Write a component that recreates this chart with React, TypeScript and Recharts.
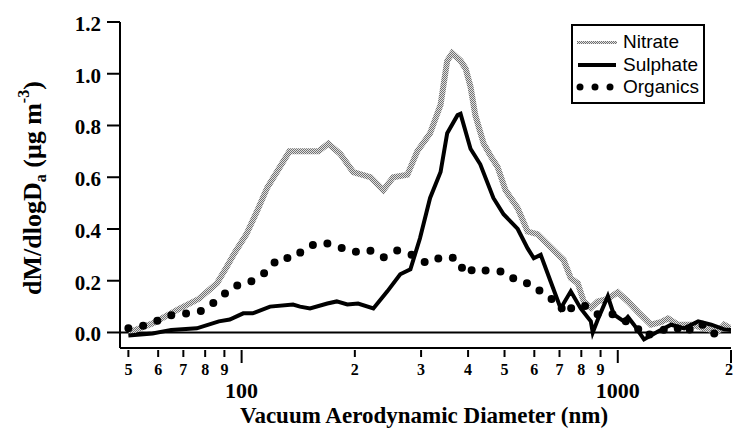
import { LineChart, Line, XAxis, YAxis, ReferenceLine, Legend } from 'recharts';

// diameters (nm) and dM/dlogDa values
const nitrateD = [50, 58, 68, 77, 86, 91, 96, 103, 110, 117, 124, 134, 143, 152, 160, 170, 183, 198, 220, 238, 253, 276, 293, 317, 338, 352, 363, 382, 394, 406, 418, 440, 460, 479, 503, 542, 576, 612, 663, 718, 750, 783, 812, 848, 885, 940, 1000, 1064, 1131, 1225, 1300, 1361, 1447, 1567, 1697, 1849, 1919, 2000];
const nitrateV = [0.0, 0.035, 0.09, 0.13, 0.19, 0.25, 0.31, 0.38, 0.47, 0.56, 0.62, 0.7, 0.7, 0.7, 0.7, 0.73, 0.69, 0.62, 0.6, 0.55, 0.6, 0.61, 0.7, 0.77, 0.88, 1.05, 1.08, 1.05, 1.02, 0.95, 0.84, 0.73, 0.68, 0.64, 0.55, 0.48, 0.39, 0.38, 0.33, 0.28, 0.21, 0.19, 0.12, 0.095, 0.12, 0.13, 0.155, 0.12, 0.08, 0.03, 0.04, 0.054, 0.03, 0.03, 0.016, 0.005, 0.03, 0.016];

const sulphateD = [50, 58, 65, 76, 87, 93, 101, 107, 119, 137, 143, 152, 169, 179, 191, 204, 224, 244, 264, 281, 298, 317, 338, 352, 375, 382, 406, 431, 467, 497, 542, 576, 598, 624, 663, 705, 750, 797, 848, 858, 885, 941, 976, 1038, 1064, 1104, 1174, 1279, 1386, 1501, 1636, 1772, 1919, 2000];
const sulphateV = [-0.012, -0.004, 0.01, 0.016, 0.043, 0.05, 0.074, 0.074, 0.1, 0.108, 0.1, 0.093, 0.112, 0.12, 0.108, 0.112, 0.093, 0.159, 0.225, 0.244, 0.364, 0.52, 0.62, 0.77, 0.84, 0.845, 0.71, 0.65, 0.52, 0.457, 0.4, 0.325, 0.287, 0.3, 0.197, 0.093, 0.159, 0.093, 0.043, 0.0, 0.05, 0.14, 0.07, 0.043, 0.06, 0.03, -0.027, 0.004, 0.03, 0.016, 0.043, 0.03, 0.012, 0.01];

const organicsD = [50, 55, 60, 66, 72, 79, 87, 95, 104, 115, 126, 137, 150, 165, 179, 198, 217, 238, 259, 286, 311, 344, 375, 393, 418, 456, 499, 542, 594, 643, 705, 714, 764, 807, 885, 970, 1051, 1118, 1174, 1279, 1412, 1520, 1596, 1697, 1805, 1967];
const organicsV = [0.016, 0.027, 0.046, 0.07, 0.074, 0.085, 0.13, 0.178, 0.19, 0.23, 0.29, 0.286, 0.333, 0.348, 0.333, 0.31, 0.32, 0.29, 0.317, 0.298, 0.267, 0.294, 0.286, 0.225, 0.25, 0.236, 0.236, 0.197, 0.186, 0.14, 0.112, 0.074, 0.1, 0.108, 0.07, 0.07, 0.043, 0.023, -0.015, 0.004, 0.023, -0.004, 0.03, 0.03, -0.004, 0.004];

const xTicks = [50, 60, 70, 80, 90, 100, 200, 300, 400, 500, 600, 700, 800, 900, 1000, 2000];
const yTicks = [0, 0.2, 0.4, 0.6, 0.8, 1.0, 1.2];

const toRows = (ds: number[], vs: number[]) => ds.map((d, i) => ({ d, v: vs[i] }));
const nitrate = toRows(nitrateD, nitrateV);
const sulphate = toRows(sulphateD, sulphateV);
const organics = toRows(organicsD, organicsV);

const serif = '"Liberation Serif", "Times New Roman", serif';

const XTick = ({ x, y, payload }: any) => {
  const v = payload.value;
  const major = v === 100 || v === 1000 || v === 2000;
  const lead = Math.round(v / Math.pow(10, Math.floor(Math.log10(v) + 1e-9)));
  const last = v === 2000;
  return (
    <g>
      <line x1={x} x2={x} y1={y + 2} y2={y + (major ? 15 : 9)} stroke="#000" strokeWidth={2} />
      {v === 100 || v === 1000 ? (
        <text x={x} y={y + 50} textAnchor="middle" fontFamily={serif} fontWeight="bold" fontSize={22}>{v}</text>
      ) : (
        <text x={last ? x + 2 : x} y={y + 27} textAnchor={last ? 'end' : 'middle'} fontFamily={serif} fontWeight="bold" fontSize={16}>{lead}</text>
      )}
    </g>
  );
};

const YTick = ({ x, y, payload }: any) => (
  <g>
    <line x1={x - 13} x2={x} y1={y} y2={y} stroke="#000" strokeWidth={2} />
    <text x={x - 19} y={y + 9} textAnchor="end" fontFamily={serif} fontWeight="bold" fontSize={21}>
      {payload.value.toFixed(1)}
    </text>
  </g>
);

const XTitle = () => (
  <text x={424} y={423} textAnchor="middle" fontFamily={serif} fontWeight="bold" fontSize={23}>
    Vacuum Aerodynamic Diameter (nm)
  </text>
);

const YTitle = () => (
  <text transform="translate(41,188) rotate(-90)" textAnchor="middle" fontFamily={serif} fontWeight="bold" fontSize={26}>
    dM/dlogD<tspan fontSize={16} dy={5}>a</tspan>
    <tspan dy={-5}> (μg m</tspan>
    <tspan fontSize={16} dy={-12}>-3</tspan>
    <tspan dy={12}>)</tspan>
  </text>
);

const legendItems = [
  { name: 'Nitrate', kind: 'nitrate' },
  { name: 'Sulphate', kind: 'sulphate' },
  { name: 'Organics', kind: 'organics' },
];

const LegendBox = () => (
  <div style={{ border: '2px solid #000', background: '#fff', padding: '5px 4px 3px 3px', width: 134, boxSizing: 'border-box' }}>
    {legendItems.map((it) => (
      <div key={it.name} style={{ display: 'flex', alignItems: 'center', height: 22.5 }}>
        <svg width={42} height={12} style={{ marginRight: 5 }}>
          <defs>
            <pattern id={'lp' + it.kind} width="2" height="2" patternUnits="userSpaceOnUse">
              <rect width="2" height="2" fill="#e2e2e2" />
              <rect width="1" height="1" fill="#707070" />
              <rect x="1" y="1" width="1" height="1" fill="#707070" />
            </pattern>
          </defs>
          {it.kind === 'nitrate' && <rect x={1} y={5} width={40} height={3} fill={'url(#lp' + it.kind + ')'} />}
          {it.kind === 'sulphate' && <line x1={2} x2={40} y1={6} y2={6} stroke="#000" strokeWidth={4} />}
          {it.kind === 'organics' && [4, 19, 34].map((cx) => <circle key={cx} cx={cx} cy={6} r={3.5} fill="#000" />)}
        </svg>
        <span style={{ fontFamily: '"Liberation Sans", Arial, sans-serif', fontSize: 19, lineHeight: '22px' }}>{it.name}</span>
      </div>
    ))}
  </div>
);

export default function App() {
  return (
    <div style={{ position: 'absolute', left: 0, top: 0, width: 733, height: 428, background: '#fff' }}>
      <LineChart width={733} height={428} margin={{ top: 22, right: 2, bottom: 0, left: 0 }}>
        <defs>
          <pattern id="nitrateFill" width="2" height="2" patternUnits="userSpaceOnUse">
            <rect width="2" height="2" fill="#e0e0e0" />
            <rect width="1" height="1" fill="#727272" />
            <rect x="1" y="1" width="1" height="1" fill="#727272" />
          </pattern>
        </defs>
        <XAxis
          dataKey="d"
          type="number"
          scale="log"
          domain={[47.5, 2000]}
          allowDataOverflow
          ticks={xTicks}
          interval={0}
          height={80}
          tickSize={0}
          tickMargin={0}
          tickLine={false}
          axisLine={{ stroke: '#000', strokeWidth: 2 }}
          tick={(p: any) => <XTick {...p} />}
          label={<XTitle />}
        />
        <YAxis
          type="number"
          domain={[-0.06, 1.2]}
          allowDataOverflow
          ticks={yTicks}
          interval={0}
          width={120}
          tickSize={0}
          tickMargin={0}
          tickLine={false}
          axisLine={{ stroke: '#000', strokeWidth: 2 }}
          tick={(p: any) => <YTick {...p} />}
          label={<YTitle />}
        />
        <ReferenceLine y={0} stroke="#000" strokeWidth={2} />
        <Line data={nitrate} dataKey="v" name="Nitrate" type="linear" stroke="url(#nitrateFill)" strokeWidth={6} dot={false} isAnimationActive={false} />
        <Line data={organics} dataKey="v" name="Organics" type="linear" stroke="#000" strokeWidth={8} strokeDasharray="0 15" strokeLinecap="round" dot={false} isAnimationActive={false} />
        <Line data={sulphate} dataKey="v" name="Sulphate" type="linear" stroke="#000" strokeWidth={4} dot={false} isAnimationActive={false} />
        <Legend
          layout="horizontal"
          verticalAlign="middle"
          align="center"
          content={() => <LegendBox />}
          wrapperStyle={{ left: 571, top: 24, width: 134, right: 'auto', bottom: 'auto' }}
        />
      </LineChart>
    </div>
  );
}
